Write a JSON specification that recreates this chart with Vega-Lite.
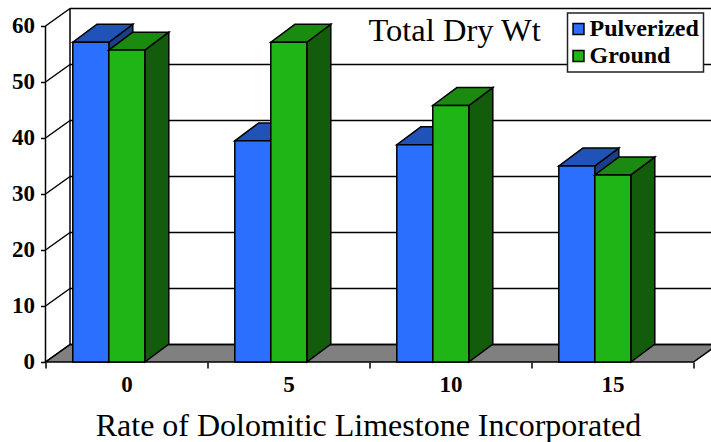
{
  "$schema": "https://vega.github.io/schema/vega-lite/v6.json",
  "width": 665.5,
  "height": 353,
  "autosize": {"type": "none"},
  "padding": {"left": 45.5, "top": 9, "right": 0, "bottom": 80},
  "background": "white",
  "title": {"text": "Total Dry Wt", "frame": "group", "anchor": "start", "align": "left", "baseline": "alphabetic", "offset": 0, "dx": 323, "dy": 66, "font": "Liberation Serif", "fontSize": 32.5, "fontWeight": "normal", "color": "black"},
  "datasets": {
    "bars": [
      {"rate": 0, "series": "Pulverized", "value": 57.1},
      {"rate": 0, "series": "Ground", "value": 55.7},
      {"rate": 5, "series": "Pulverized", "value": 39.5},
      {"rate": 5, "series": "Ground", "value": 57.1},
      {"rate": 10, "series": "Pulverized", "value": 38.8},
      {"rate": 10, "series": "Ground", "value": 45.8},
      {"rate": 15, "series": "Pulverized", "value": 35},
      {"rate": 15, "series": "Ground", "value": 33.4}
    ],
    "levels": [{"level": 0}, {"level": 10}, {"level": 20}, {"level": 30}, {"level": 40}, {"level": 50}, {"level": 60}]
  },
  "resolve": {"axis": {"x": "independent", "y": "independent"}},
  "layer": [
    {
      "description": "Floor of the box",
      "data": {"name": "levels"},
      "transform": [
        {"filter": "datum.level === 0"},
        {"calculate": "[0, 1]", "as": "t"},
        {"flatten": ["t"]},
        {"calculate": "datum.t * 24.5 / 162", "as": "x1"},
        {"calculate": "4 + datum.t * 24.5 / 162", "as": "x2"},
        {"calculate": "datum.t * 3.125", "as": "yy"}
      ],
      "mark": {"type": "area", "orient": "horizontal", "fill": "#808080", "stroke": "black", "strokeWidth": 1.5, "clip": false},
      "encoding": {
        "y": {"field": "yy", "type": "quantitative", "stack": null, "scale": {"domain": [0, 63.036], "nice": false, "zero": false}, "axis": {"orient": "left", "values": [0, 10, 20, 30, 40, 50, 60], "title": null, "grid": false, "domain": false, "tickColor": "black", "tickWidth": 1.5, "tickSize": 5, "labelFont": "Liberation Serif", "labelFontWeight": "bold", "labelFontSize": 23, "labelColor": "black", "labelPadding": 6, "labelOffset": -1}},
        "x": {"field": "x1", "type": "quantitative", "scale": {"domain": [0, 4.108], "nice": false, "zero": false}, "axis": {"orient": "bottom", "values": [0, 1, 2, 3, 4], "labels": false, "title": null, "grid": false, "domain": false, "tickColor": "black", "tickWidth": 1.5, "tickSize": 6}},
        "x2": {"field": "x2"}
      }
    },
    {
      "description": "Back wall gridlines, raised by the depth of the box",
      "data": {"name": "levels"},
      "transform": [{"calculate": "datum.level + 3.125", "as": "yy"}, {"calculate": "24.5 / 162", "as": "x1"}, {"calculate": "4.108", "as": "x2"}],
      "mark": {"type": "rule", "stroke": "black", "strokeWidth": 1.5},
      "encoding": {
        "y": {"field": "yy", "type": "quantitative", "scale": {"domain": [0, 63.036], "nice": false, "zero": false}, "axis": null},
        "x": {"field": "x1", "type": "quantitative", "scale": {"domain": [0, 4.108], "nice": false, "zero": false}, "axis": null},
        "x2": {"field": "x2"}
      }
    },
    {
      "description": "Side wall diagonals running from the axis to the back wall",
      "data": {"name": "levels"},
      "transform": [{"calculate": "datum.level + 3.125", "as": "yy"}, {"calculate": "0", "as": "x1"}, {"calculate": "24.5 / 162", "as": "x2"}],
      "mark": {"type": "rule", "stroke": "black", "strokeWidth": 1.5},
      "encoding": {
        "y": {"field": "level", "type": "quantitative", "scale": {"domain": [0, 63.036], "nice": false, "zero": false}, "axis": null},
        "y2": {"field": "yy"},
        "x": {"field": "x1", "type": "quantitative", "scale": {"domain": [0, 4.108], "nice": false, "zero": false}, "axis": null},
        "x2": {"field": "x2"}
      }
    },
    {
      "description": "Front vertical axis line and back wall corner",
      "data": {"name": "levels"},
      "transform": [
        {"filter": "datum.level === 0"},
        {"calculate": "[0, 1]", "as": "t"},
        {"flatten": ["t"]},
        {"calculate": "datum.t * 24.5 / 162", "as": "x1"},
        {"calculate": "datum.t * 3.125", "as": "y1"},
        {"calculate": "60 + datum.t * 3.125", "as": "y2"}
      ],
      "mark": {"type": "rule", "stroke": "black", "strokeWidth": 1.5},
      "encoding": {
        "y": {"field": "y1", "type": "quantitative", "scale": {"domain": [0, 63.036], "nice": false, "zero": false}, "axis": null},
        "y2": {"field": "y2"},
        "x": {"field": "x1", "type": "quantitative", "scale": {"domain": [0, 4.108], "nice": false, "zero": false}, "axis": null}
      }
    },
    {
      "description": "Category labels centred between the ticks, with the axis title",
      "data": {"values": [{"slot": 0.5}, {"slot": 1.5}, {"slot": 2.5}, {"slot": 3.5}]},
      "mark": {"type": "point", "opacity": 0},
      "encoding": {
        "x": {"field": "slot", "type": "quantitative", "scale": {"domain": [0, 4.108], "nice": false, "zero": false}, "axis": {"orient": "bottom", "values": [0.5, 1.5, 2.5, 3.5], "labelExpr": "(datum.value - 0.5) * 5", "ticks": false, "domain": false, "grid": false, "labelFont": "Liberation Serif", "labelFontWeight": "bold", "labelFontSize": 23, "labelColor": "black", "labelPadding": 11, "title": "Rate of Dolomitic Limestone Incorporated", "titleFont": "Liberation Serif", "titleFontWeight": "normal", "titleFontSize": 32, "titleColor": "black", "titleBaseline": "alphabetic", "titleX": 322.5, "titleY": 73}}
      }
    },
    {
      "description": "Bars drawn as three faces each, pulverized first so ground overlaps it",
      "data": {"name": "bars"},
      "transform": [
        {"calculate": "indexof([0, 5, 10, 15], datum.rate) + (27.3 + (datum.series === 'Ground' ? 36 : 0)) / 162", "as": "left"},
        {"calculate": "datum.left + 36 / 162", "as": "right"},
        {"calculate": "[0, 1]", "as": "t"},
        {"flatten": ["t"]},
        {"calculate": "datum.t * 24 / 162", "as": "dx"},
        {"calculate": "datum.t * 3.2", "as": "base"},
        {"calculate": "datum.value + datum.t * 3.2", "as": "tip"},
        {"calculate": "datum.left + datum.dx", "as": "topLeft"},
        {"calculate": "datum.right + datum.dx", "as": "topRight"}
      ],
      "layer": [
        {
          "transform": [{"filter": "datum.series === 'Pulverized'"}],
          "mark": {"type": "area", "fill": "#1b3f87", "stroke": "black", "strokeWidth": 1.5},
          "encoding": {
            "x": {"field": "topRight", "type": "quantitative", "scale": {"domain": [0, 4.108], "nice": false, "zero": false}, "axis": null},
            "y": {"field": "tip", "type": "quantitative", "stack": null, "scale": {"domain": [0, 63.036], "nice": false, "zero": false}, "axis": null},
            "y2": {"field": "base"},
            "detail": {"field": "rate"}
          }
        },
        {
          "transform": [{"filter": "datum.series === 'Pulverized'"}],
          "mark": {"type": "area", "orient": "horizontal", "fill": "#2152b8", "stroke": "black", "strokeWidth": 1.5},
          "encoding": {
            "y": {"field": "tip", "type": "quantitative", "scale": {"domain": [0, 63.036], "nice": false, "zero": false}, "axis": null},
            "x": {"field": "topLeft", "type": "quantitative", "stack": null, "scale": {"domain": [0, 4.108], "nice": false, "zero": false}, "axis": null},
            "x2": {"field": "topRight"},
            "detail": {"field": "rate"}
          }
        },
        {
          "transform": [{"filter": "datum.series === 'Pulverized' && datum.t === 0"}],
          "mark": {"type": "rect", "stroke": "black", "strokeWidth": 1.5},
          "encoding": {
            "x": {"field": "left", "type": "quantitative", "scale": {"domain": [0, 4.108], "nice": false, "zero": false}, "axis": null},
            "x2": {"field": "right"},
            "y": {"field": "value", "type": "quantitative", "scale": {"domain": [0, 63.036], "nice": false, "zero": false}, "axis": null},
            "y2": {"field": "base"},
            "color": {"field": "series", "type": "nominal", "scale": {"domain": ["Pulverized", "Ground"], "range": ["#2b6fff", "#20b516"]}, "legend": {"title": null, "orient": "none", "legendX": 522, "legendY": 4, "fillColor": "white", "strokeColor": "#222222", "padding": 4, "symbolType": "square", "symbolSize": 120, "symbolOffset": -5, "symbolStrokeColor": "black", "symbolStrokeWidth": 1.5, "labelFont": "Liberation Serif", "labelFontWeight": "bold", "labelFontSize": 24, "labelColor": "black", "labelLimit": 200, "rowPadding": 3, "labelOffset": -1}}
          }
        },
        {
          "transform": [{"filter": "datum.series === 'Ground'"}],
          "mark": {"type": "area", "fill": "#125c0c", "stroke": "black", "strokeWidth": 1.5},
          "encoding": {
            "x": {"field": "topRight", "type": "quantitative", "scale": {"domain": [0, 4.108], "nice": false, "zero": false}, "axis": null},
            "y": {"field": "tip", "type": "quantitative", "stack": null, "scale": {"domain": [0, 63.036], "nice": false, "zero": false}, "axis": null},
            "y2": {"field": "base"},
            "detail": {"field": "rate"}
          }
        },
        {
          "transform": [{"filter": "datum.series === 'Ground'"}],
          "mark": {"type": "area", "orient": "horizontal", "fill": "#1a8a10", "stroke": "black", "strokeWidth": 1.5},
          "encoding": {
            "y": {"field": "tip", "type": "quantitative", "scale": {"domain": [0, 63.036], "nice": false, "zero": false}, "axis": null},
            "x": {"field": "topLeft", "type": "quantitative", "stack": null, "scale": {"domain": [0, 4.108], "nice": false, "zero": false}, "axis": null},
            "x2": {"field": "topRight"},
            "detail": {"field": "rate"}
          }
        },
        {
          "transform": [{"filter": "datum.series === 'Ground' && datum.t === 0"}],
          "mark": {"type": "rect", "stroke": "black", "strokeWidth": 1.5},
          "encoding": {
            "x": {"field": "left", "type": "quantitative", "scale": {"domain": [0, 4.108], "nice": false, "zero": false}, "axis": null},
            "x2": {"field": "right"},
            "y": {"field": "value", "type": "quantitative", "scale": {"domain": [0, 63.036], "nice": false, "zero": false}, "axis": null},
            "y2": {"field": "base"},
            "color": {"field": "series", "type": "nominal", "scale": {"domain": ["Pulverized", "Ground"], "range": ["#2b6fff", "#20b516"]}, "legend": {"title": null, "orient": "none", "legendX": 522, "legendY": 4, "fillColor": "white", "strokeColor": "#222222", "padding": 4, "symbolType": "square", "symbolSize": 120, "symbolOffset": -5, "symbolStrokeColor": "black", "symbolStrokeWidth": 1.5, "labelFont": "Liberation Serif", "labelFontWeight": "bold", "labelFontSize": 24, "labelColor": "black", "labelLimit": 200, "rowPadding": 3, "labelOffset": -1}}
          }
        }
      ]
    }
  ],
  "config": {"view": {"stroke": null}, "legend": {"strokeWidth": 1.5}}
}
